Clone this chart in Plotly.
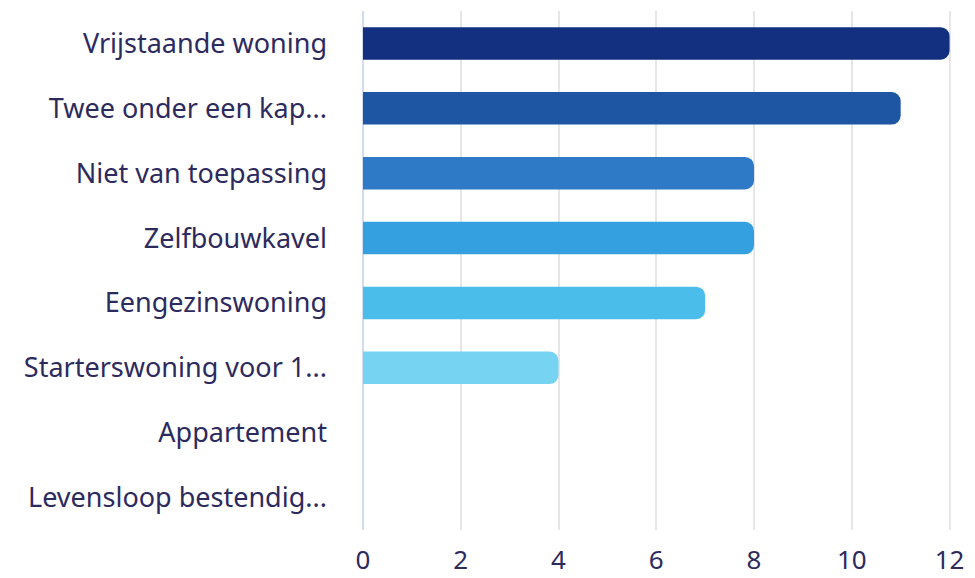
import plotly.graph_objects as go

categories = [
    "Vrijstaande woning",
    "Twee onder een kap...",
    "Niet van toepassing",
    "Zelfbouwkavel",
    "Eengezinswoning",
    "Starterswoning voor 1...",
    "Appartement",
    "Levensloop bestendig...",
]
values = [12, 11, 8, 8, 7, 4, 0, 0]
colors = ["#12307f", "#1f56a4", "#2f7ac6", "#35a0e0", "#4bbdeb", "#77d3f2", "#9fe0f6", "#c4ecfa"]
tick_vals = [0, 2, 4, 6, 8, 10, 12]

fig = go.Figure(go.Bar(
    x=values,
    y=categories,
    orientation="h",
    marker=dict(color=colors, cornerradius=9, line=dict(width=0)),
    hovertemplate="%{y}<br>%{x}<extra></extra>",
))

# the page body has an 8px margin, so the figure is sized to fit the rest of the window
fig.update_layout(
    width=967,
    height=570,
    margin=dict(l=355, r=23, t=3, b=48),
    plot_bgcolor="white",
    paper_bgcolor="white",
    bargap=0.5,
    showlegend=False,
    font=dict(family="Noto Sans, sans-serif", size=27, color="#2d2a5e"),
    xaxis=dict(
        range=[0, 12.05],
        tickvals=tick_vals,
        automargin=False,
        showgrid=True,
        gridcolor="#e6e6e9",
        gridwidth=1.5,
        zeroline=True,
        zerolinecolor="#d3dcee",
        zerolinewidth=2,
        ticklabelstandoff=12,
        tickfont=dict(size=26, color="#2d2a5e"),
    ),
    yaxis=dict(
        categoryorder="array",
        categoryarray=categories[::-1],
        automargin=False,
        showgrid=False,
        ticklabelstandoff=35,
        tickfont=dict(size=27, color="#2d2a5e"),
    ),
)

fig.write_html("out.html")
